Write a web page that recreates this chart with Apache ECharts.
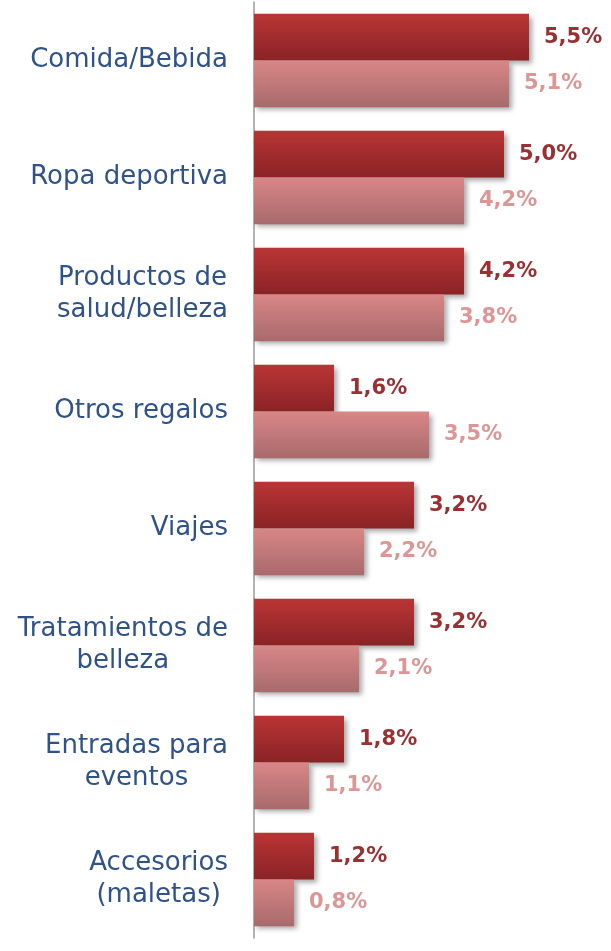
<!DOCTYPE html>
<html>
<head>
<meta charset="utf-8">
<script src="https://cdn.jsdelivr.net/npm/echarts@6/dist/echarts.min.js"></script>
<style>
  html, body { margin: 0; padding: 0; background: #fff; }
  #chart { width: 611px; height: 951px; }
</style>
</head>
<body>
<div id="chart"></div>
<script>
const categories = [
  'Comida/Bebida',
  'Ropa deportiva',
  'Productos de\nsalud/belleza',
  'Otros regalos',
  'Viajes',
  'Tratamientos de\nbelleza',
  'Entradas para\neventos',
  'Accesorios\n(maletas)'
]
const darkValues = [5.5, 5.0, 4.2, 1.6, 3.2, 3.2, 1.8, 1.2]
const lightValues = [5.1, 4.2, 3.8, 3.5, 2.2, 2.1, 1.1, 0.8]

const fmt = (p) => p.value.toFixed(1).replace('.', ',') + '%'
const font = '"DejaVu Sans", sans-serif'

const chart = echarts.init(document.getElementById('chart'))

const barShadow = {
  shadowColor: 'rgba(0, 0, 0, 0.35)',
  shadowBlur: 5,
  shadowOffsetX: 3,
  shadowOffsetY: 3
}

chart.setOption({
  animation: false,
  grid: {
    left: 254,
    right: 7,
    top: 2,
    bottom: 13
  },
  xAxis: {
    type: 'value',
    min: 0,
    max: 7,
    show: false
  },
  yAxis: {
    type: 'category',
    data: categories,
    inverse: true,
    axisLine: {
      lineStyle: { color: '#9a9a9a', width: 1.5 }
    },
    axisTick: { show: false },
    axisLabel: {
      margin: 26,
      align: 'right',
      // multi-line labels are centred line by line, block right-aligned
      formatter: (v) => v.split('\n').map(s => '{c|' + s + '}').join('\n'),
      rich: {
        c: {
          align: 'center',
          color: '#2f5288',
          fontSize: 26,
          fontFamily: font,
          lineHeight: 32
        }
      }
    }
  },
  series: [
    {
      name: 'dark',
      type: 'bar',
      data: darkValues,
      barCategoryGap: '20%',
      barGap: '0%',
      itemStyle: {
        color: new echarts.graphic.LinearGradient(0, 0, 0, 1, [
          { offset: 0, color: '#ba3535' },
          { offset: 1, color: '#8a2325' }
        ]),
        ...barShadow
      },
      label: {
        show: true,
        position: 'right',
        distance: 15,
        formatter: fmt,
        color: '#9b2f31',
        fontWeight: 'bold',
        fontSize: 21,
        fontFamily: font
      }
    },
    {
      name: 'light',
      type: 'bar',
      data: lightValues,
      barCategoryGap: '20%',
      barGap: '0%',
      itemStyle: {
        color: new echarts.graphic.LinearGradient(0, 0, 0, 1, [
          { offset: 0, color: '#d98686' },
          { offset: 1, color: '#a86a6b' }
        ]),
        ...barShadow
      },
      label: {
        show: true,
        position: 'right',
        distance: 15,
        formatter: fmt,
        color: '#dc9696',
        fontWeight: 'bold',
        fontSize: 21,
        fontFamily: font
      }
    }
  ]
})
</script>
</body>
</html>
